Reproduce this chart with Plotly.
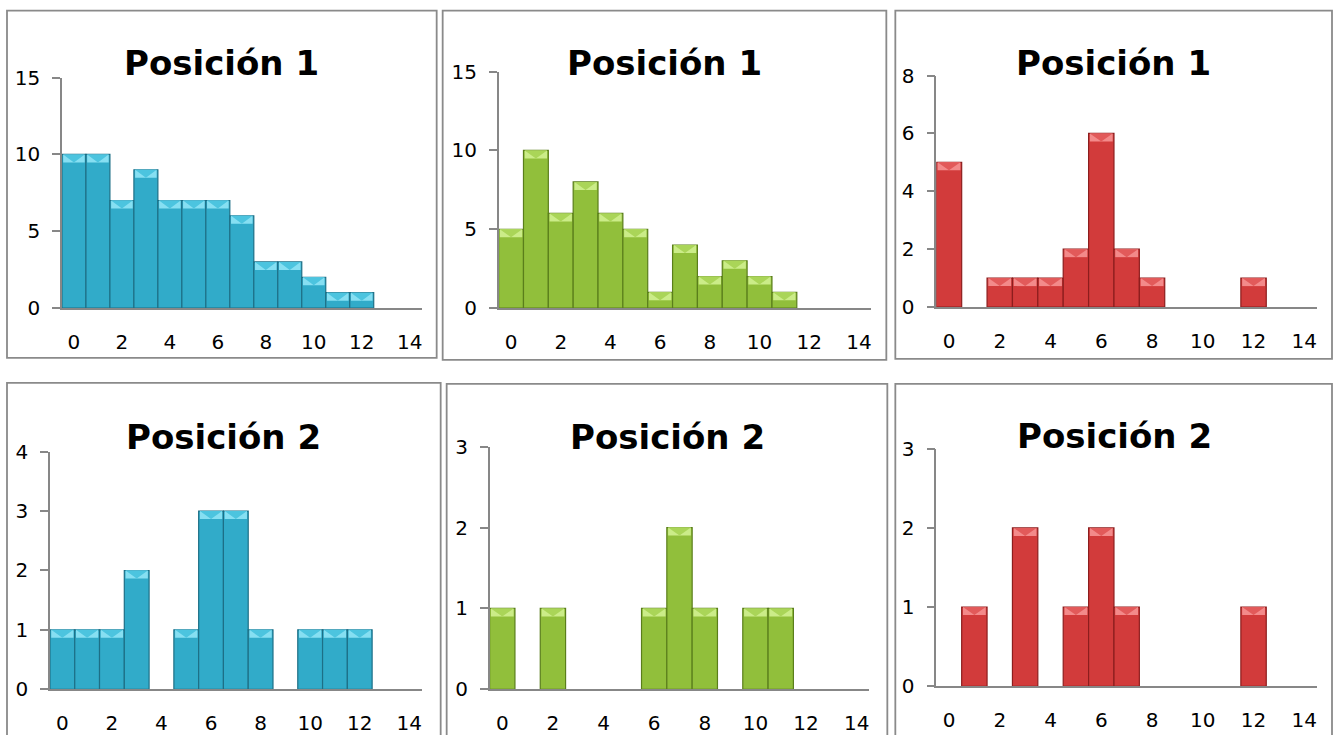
import plotly.graph_objects as go

W, H = 1337, 735

# ---------------- data ----------------
x_vals = list(range(15))
x_ticks = [0, 2, 4, 6, 8, 10, 12, 14]

titles = ["Posición 1", "Posición 1", "Posición 1",
          "Posición 2", "Posición 2", "Posición 2"]

blue_pos1 = [10, 10, 7, 9, 7, 7, 7, 6, 3, 3, 2, 1, 1, 0, 0]
green_pos1 = [5, 10, 6, 8, 6, 5, 1, 4, 2, 3, 2, 1, 0, 0, 0]
red_pos1 = [5, 0, 1, 1, 1, 2, 6, 2, 1, 0, 0, 0, 1, 0, 0]
blue_pos2 = [1, 1, 1, 2, 0, 1, 3, 3, 1, 0, 1, 1, 1, 0, 0]
green_pos2 = [1, 0, 1, 0, 0, 0, 1, 2, 1, 0, 1, 1, 0, 0, 0]
red_pos2 = [0, 1, 0, 2, 0, 1, 2, 1, 0, 0, 0, 0, 1, 0, 0]

y_max = [15, 15, 8, 4, 3, 3]
y_dtick = [5, 5, 2, 1, 1, 1]

series = [blue_pos1, green_pos1, red_pos1, blue_pos2, green_pos2, red_pos2]

# ---------------- styles ----------------
palettes = {
    "blue": dict(body="#31abc9", edge="#1d6f86", band="#86dff2", vee="#4cc4df"),
    "green": dict(body="#91bf3b", edge="#5a7e1b", band="#cbec88", vee="#aad558"),
    "red": dict(body="#d23b3b", edge="#8c1d1d", band="#f38a8a", vee="#e25a5a"),
}
panel_colors = ["blue", "green", "red", "blue", "green", "red"]

# target screen positions in pixels
# plot areas: (x_left, x_right, y_top(max value), y_bottom(zero))
areas = [
    (62, 422, 77, 308),
    (499, 872, 71, 308),
    (937, 1318, 75, 307),
    (50, 422, 452, 690),
    (490, 870, 447, 690),
    (937, 1318, 449, 687),
]
# frames: (x0, y0, x1, y1)
frames = [
    (7, 10, 437, 358),
    (443, 10, 887, 360),
    (896, 10, 1333, 359),
    (7, 383, 441, 770),
    (447, 384, 888, 770),
    (896, 384, 1333, 770),
]
title_pos = [(222, 62), (665, 62), (1114, 62), (224, 437), (668, 437), (1115, 436)]

# the page is displayed with a slight vertical squeeze; compensate
Y_OFF, Y_SCALE = 11.3, 0.9667


def py(t):
    """paper fraction for a target screen row t (pixels from top)"""
    return 1 - ((t - Y_OFF) / Y_SCALE) / H


FONT = "DejaVu Sans"
AXIS_GREY = "#878787"
BEVEL_PX = 8

fig = go.Figure()
layout = dict(
    width=W, height=H, autosize=False,
    margin=dict(l=0, r=0, t=0, b=0, pad=0),
    paper_bgcolor="white", plot_bgcolor="white",
    showlegend=False, barmode="overlay",
    font=dict(family=FONT, color="black"),
    shapes=[], annotations=[],
)

for i, vals in enumerate(series):
    n = i + 1
    xa = "x" if n == 1 else f"x{n}"
    ya = "y" if n == 1 else f"y{n}"
    xl, xr, yt, yb = areas[i]
    pal = palettes[panel_colors[i]]
    ymax = y_max[i]
    delta = BEVEL_PX * ymax / (yb - yt)

    xs = [x for x, v in zip(x_vals, vals) if v > 0]
    vs = [v for v in vals if v > 0]

    fig.add_trace(go.Bar(
        x=xs, y=vs, width=1.0, xaxis=xa, yaxis=ya,
        marker=dict(color=pal["body"], line=dict(color=pal["edge"], width=1.2)),
        hoverinfo="x+y",
    ))
    fig.add_trace(go.Bar(
        x=xs, y=[delta] * len(vs), base=[v - delta for v in vs], width=0.9,
        xaxis=xa, yaxis=ya,
        marker=dict(color=pal["band"], line=dict(width=0)),
        hoverinfo="skip",
    ))
    tx, ty = [], []
    for x, v in zip(xs, vs):
        tx += [x - 0.45, x + 0.45, x, None]
        ty += [v, v, v - delta, None]
    fig.add_trace(go.Scatter(
        x=tx, y=ty, xaxis=xa, yaxis=ya, mode="lines", fill="toself",
        fillcolor=pal["vee"], line=dict(width=0, color=pal["vee"]),
        hoverinfo="skip",
    ))

    xkey = "xaxis" if n == 1 else f"xaxis{n}"
    ykey = "yaxis" if n == 1 else f"yaxis{n}"
    layout[xkey] = dict(
        domain=[xl / W, xr / W], anchor=ya, range=[-0.5, 14.5],
        tickmode="array", tickvals=x_ticks, ticks="",
        showline=True, linecolor=AXIS_GREY, linewidth=1.5,
        showgrid=False, zeroline=False, fixedrange=True,
        tickfont=dict(size=20, family=FONT, color="black"),
        ticklabelstandoff=15,
    )
    layout[ykey] = dict(
        domain=[py(yb), py(yt)], anchor=xa, range=[0, ymax],
        tickmode="linear", tick0=0, dtick=y_dtick[i],
        ticks="outside", ticklen=8, tickcolor=AXIS_GREY, tickwidth=1.5,
        showline=True, linecolor=AXIS_GREY, linewidth=1.5,
        showgrid=False, zeroline=False, fixedrange=True,
        tickfont=dict(size=20, family=FONT, color="black"),
        ticklabelstandoff=8,
    )

    fx0, fy0, fx1, fy1 = frames[i]
    layout["shapes"].append(dict(
        type="rect", xref="paper", yref="paper",
        x0=fx0 / W, x1=fx1 / W, y0=py(fy1), y1=py(fy0),
        line=dict(color="#8a8a8a", width=1.8), fillcolor="rgba(0,0,0,0)",
        layer="below",
    ))
    tx_, ty_ = title_pos[i]
    layout["annotations"].append(dict(
        text=f"<b>{titles[i]}</b>", xref="paper", yref="paper",
        x=tx_ / W, y=py(ty_), xanchor="center", yanchor="middle",
        showarrow=False, font=dict(size=34, family=FONT, color="black"),
    ))

fig.update_layout(**layout)
fig.write_html("out.html")
